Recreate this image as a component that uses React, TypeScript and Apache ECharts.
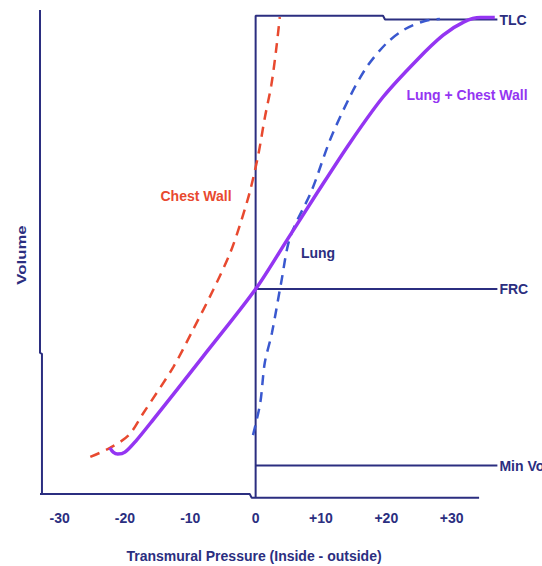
import React, { useEffect, useRef } from "react";
import * as echarts from "echarts";

// Transmural pressure (cmH2O) vs. lung volume (% of TLC)
const chestWall: [number, number][] = [
  [-25.3, 8.0], [-22.3, 9.9], [-19.4, 12.6], [-17.2, 17.2], [-12.6, 26.9],
  [-9.6, 34.7], [-6.5, 43.1], [-3.9, 50.9], [-2.4, 56.8], [-0.9, 63.7],
  [0.4, 71.5], [1.4, 79.3], [2.4, 86.2], [3.1, 93.2], [3.7, 100.5],
];
const lung: [number, number][] = [
  [-0.4, 12.6], [0.7, 19.3], [1.4, 27.8], [2.5, 34.1], [3.9, 44.6],
  [5.3, 54.3], [8.6, 64.1], [11.4, 74.7], [14.4, 83.7], [17.0, 90.0],
  [20.1, 95.1], [22.9, 98.0], [25.9, 99.7], [28.2, 100.1],
];
const lungPlusChestWall: [number, number][] = [
  [-22.3, 9.9], [-21.8, 9.0], [-21.1, 8.6], [-20.0, 9.0], [-18.3, 11.4],
  [-15.7, 15.8], [-8.0, 29.2], [0, 43.3], [4.8, 53.6], [9.4, 63.5],
  [14.4, 74.0], [19.5, 83.7], [24.7, 91.5], [28.7, 96.7], [31.9, 99.5],
  [34.4, 100.4], [36.6, 100.4],
];

// Reference volume levels
const tlcLevel = 100;
const frcLevel = 43.3;
const minVolLevel = 6.2;

// Frame: left volume axis, bottom pressure axis, and the zero-pressure box edge
const leftEdge: [number, number][] = [[-33, 102], [-33, 29.9], [-32.7, 29.7], [-32.7, 0.2]];
const bottomEdge: [number, number][] = [[-33, 0.2], [-0.9, 0.2], [-0.6, -0.6], [34.2, -0.6]];
const zeroBox: [number, number][] = [[0, -0.6], [0, 100.8], [19.5, 100.8], [19.8, tlcLevel], [37, tlcLevel]];

const pressureTicks = [-30, -20, -10, 0, 10, 20, 30];

const NAVY = "#2b2e80";
const RED = "#e8492f";
const BLUE = "#3a58cf";
const PURPLE = "#9435f2";
const FONT = "Liberation Sans";

export default function App() {
  const ref = useRef<HTMLDivElement>(null);

  useEffect(() => {
    if (!ref.current) return;
    const chart = echarts.init(ref.current, undefined, { renderer: "svg" });

    const frameLine = (data: [number, number][], name?: string) => ({
      type: "line",
      data,
      symbol: "none",
      clip: false,
      silent: true,
      lineStyle: { color: NAVY, width: 2 },
      endLabel: name
        ? {
            show: true,
            formatter: name,
            color: NAVY,
            fontFamily: FONT,
            fontWeight: "bold",
            fontSize: 14,
            distance: 2,
          }
        : undefined,
    });

    const curve = (name: string, data: [number, number][], color: string, width: number, dashed: boolean) => ({
      type: "line",
      name,
      data,
      smooth: 0.3,
      symbol: "none",
      clip: false,
      lineStyle: { color, width, type: dashed ? [10, 7] : "solid" },
    });

    const label = (text: string, x: number, y: number, fill: string) => ({
      type: "text",
      x,
      y,
      style: {
        text,
        fill,
        font: `bold 14px "${FONT}"`,
        align: "center",
        verticalAlign: "middle",
      },
    });

    chart.setOption({
      animation: false,
      backgroundColor: "#ffffff",
      grid: { left: 40, right: 42, top: 10, bottom: 71, outerBoundsMode: "none" },
      xAxis: {
        type: "value",
        min: -33,
        max: 37.4,
        axisLine: { show: false },
        axisTick: { show: false },
        splitLine: { show: false },
        axisLabel: {
          customValues: pressureTicks,
          formatter: (v: number) => (v > 0 ? "+" + v : String(v)),
          color: NAVY,
          fontFamily: FONT,
          fontWeight: "bold",
          fontSize: 14,
          margin: 16,
        },
      },
      yAxis: {
        type: "value",
        min: 0,
        max: 102,
        axisLine: { show: false },
        axisTick: { show: false },
        splitLine: { show: false },
        axisLabel: { show: false },
      },
      series: [
        frameLine(leftEdge),
        frameLine(bottomEdge),
        frameLine(zeroBox, "TLC"),
        frameLine([[0, frcLevel], [37, frcLevel]], "FRC"),
        frameLine([[0, minVolLevel], [37, minVolLevel]], "Min Vol"),
        curve("Chest Wall", chestWall, RED, 2.5, true),
        curve("Lung", lung, BLUE, 2.5, true),
        curve("Lung + Chest Wall", lungPlusChestWall, PURPLE, 3.5, false),
      ],
      graphic: [
        label("Chest Wall", 196, 196, RED),
        label("Lung", 318, 253, NAVY),
        label("Lung + Chest Wall", 467, 95, PURPLE),
        label("Transmural Pressure (Inside - outside)", 254, 556, NAVY),
        {
          type: "text",
          x: 22,
          y: 255,
          rotation: Math.PI / 2,
          scaleX: 1.4,
          style: {
            text: "Volume",
            fill: NAVY,
            font: `bold 12px "${FONT}"`,
            align: "center",
            verticalAlign: "middle",
          },
        },
      ],
    });

    return () => chart.dispose();
  }, []);

  return <div ref={ref} style={{ width: 542, height: 566, position: "absolute", left: 0, top: 0 }} />;
}
